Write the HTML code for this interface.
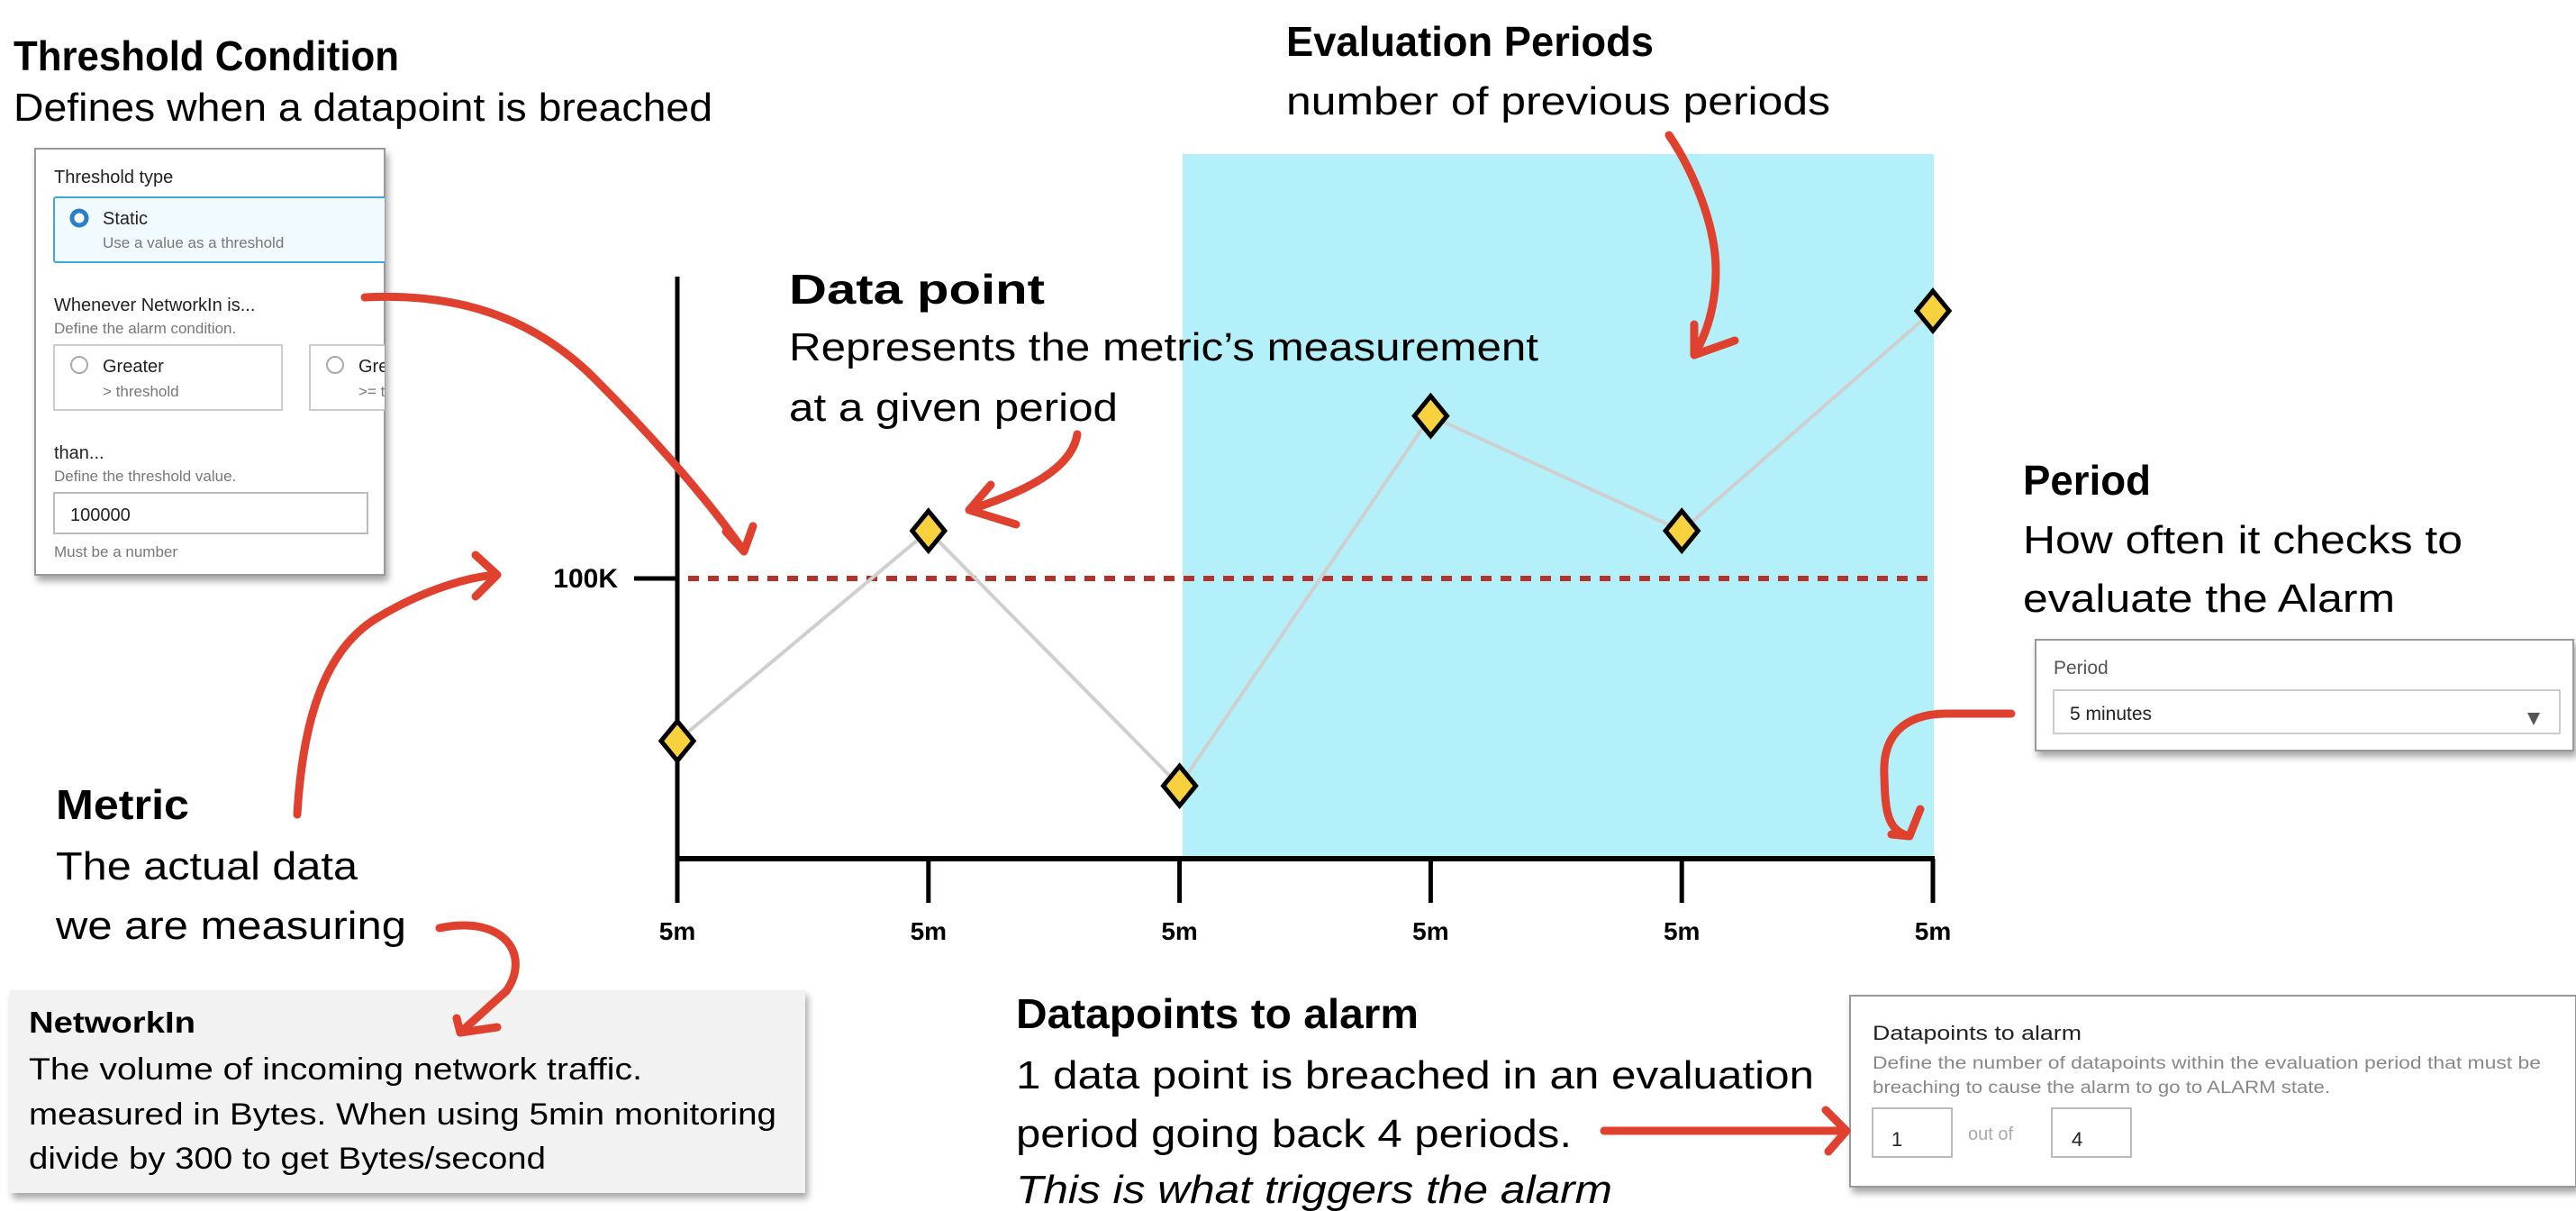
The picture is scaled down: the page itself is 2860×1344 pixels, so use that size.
<!DOCTYPE html>
<html><head><meta charset="utf-8">
<style>
html,body{margin:0;padding:0;background:#fff;}
svg{display:block;}
text{font-family:"Liberation Sans",sans-serif;}
</style></head>
<body>
<svg id="root" width="2860" height="1344" viewBox="0 0 2860 1344" xmlns="http://www.w3.org/2000/svg">
<defs>
<filter id="sh" x="-5%" y="-5%" width="115%" height="120%"><feDropShadow dx="3" dy="6" stdDeviation="4" flood-color="#000" flood-opacity="0.35"/></filter>
<clipPath id="tpclip"><rect x="39" y="160" width="388" height="480"/></clipPath>
<clipPath id="chartclip"><rect x="0" y="0" width="2172" height="1344"/></clipPath>
</defs>

<rect id="evalband" x="1313" y="171" width="834" height="782" fill="#b3f0fa"/>

<g>
<text x="15" y="78" font-size="46" font-weight="bold" textLength="428" lengthAdjust="spacingAndGlyphs">Threshold Condition</text>
<text x="15" y="134" font-size="44" textLength="776" lengthAdjust="spacingAndGlyphs">Defines when a datapoint is breached</text>
</g>

<g>
<rect x="39" y="165" width="388" height="473" fill="#fff" stroke="#999" stroke-width="2" filter="url(#sh)"/>
<g clip-path="url(#tpclip)">
<text x="60" y="203" font-size="20" fill="#222">Threshold type</text>
<rect x="60" y="219" width="380" height="72" fill="#f1fafe" stroke="#3aa8d8" stroke-width="2" rx="2"/>
<circle cx="88" cy="242" r="8" fill="#fff" stroke="#2a7fc9" stroke-width="5"/>
<text x="114" y="249" font-size="20" fill="#222">Static</text>
<text x="114" y="275" font-size="17" fill="#777">Use a value as a threshold</text>
<text x="60" y="345" font-size="20" fill="#222">Whenever NetworkIn is...</text>
<text x="60" y="370" font-size="17" fill="#777">Define the alarm condition.</text>
<rect x="60" y="383" width="253" height="72" fill="#fff" stroke="#ccc" stroke-width="2"/>
<circle cx="88" cy="405" r="9" fill="#fff" stroke="#aaa" stroke-width="2"/>
<text x="114" y="413" font-size="20" fill="#222">Greater</text>
<text x="114" y="440" font-size="17" fill="#777">&gt; threshold</text>
<rect x="344" y="383" width="253" height="72" fill="#fff" stroke="#ccc" stroke-width="2"/>
<circle cx="372" cy="405" r="9" fill="#fff" stroke="#aaa" stroke-width="2"/>
<text x="398" y="413" font-size="20" fill="#222">Greater/Equal</text>
<text x="398" y="440" font-size="17" fill="#777">&gt;= threshold</text>
<text x="60" y="509" font-size="20" fill="#222">than...</text>
<text x="60" y="534" font-size="17" fill="#777">Define the threshold value.</text>
<rect x="60" y="547" width="348" height="45" fill="#fff" stroke="#bbb" stroke-width="2"/>
<text x="78" y="578" font-size="20" fill="#222">100000</text>
<text x="60" y="618" font-size="17" fill="#777">Must be a number</text>
</g>
</g>

<g id="chart" clip-path="url(#chartclip)"></g>

<g>
<text x="876" y="337" font-size="46" font-weight="bold" textLength="284" lengthAdjust="spacingAndGlyphs">Data point</text>
<text x="876" y="400" font-size="44" textLength="832" lengthAdjust="spacingAndGlyphs">Represents the metric’s measurement</text>
<text x="876" y="467" font-size="44" textLength="365" lengthAdjust="spacingAndGlyphs">at a given period</text>
</g>

<g>
<text x="1428" y="62" font-size="46" font-weight="bold" textLength="408" lengthAdjust="spacingAndGlyphs">Evaluation Periods</text>
<text x="1428" y="127" font-size="44" textLength="604" lengthAdjust="spacingAndGlyphs">number of previous periods</text>
</g>

<g>
<text x="2246" y="549" font-size="46" font-weight="bold" textLength="142" lengthAdjust="spacingAndGlyphs">Period</text>
<text x="2246" y="614" font-size="44" textLength="488" lengthAdjust="spacingAndGlyphs">How often it checks to</text>
<text x="2246" y="679" font-size="44" textLength="413" lengthAdjust="spacingAndGlyphs">evaluate the Alarm</text>
</g>
<g>
<rect x="2260" y="710" width="597" height="123" fill="#fff" stroke="#999" stroke-width="2" filter="url(#sh)"/>
<text x="2280" y="748" font-size="21" fill="#555">Period</text>
<rect x="2280" y="766" width="562" height="48" fill="#fff" stroke="#ccc" stroke-width="2"/>
<text x="2298" y="799" font-size="21" fill="#222">5 minutes</text>
<path d="M2806,791 L2820,791 L2813,805 Z" fill="#555"/>
</g>

<g>
<text x="62" y="909" font-size="46" font-weight="bold" textLength="148" lengthAdjust="spacingAndGlyphs">Metric</text>
<text x="62" y="976" font-size="44" textLength="335" lengthAdjust="spacingAndGlyphs">The actual data</text>
<text x="62" y="1042" font-size="44" textLength="389" lengthAdjust="spacingAndGlyphs">we are measuring</text>
</g>
<g>
<rect x="11" y="1099" width="883" height="225" fill="#f2f2f2" filter="url(#sh)"/>
<text x="32" y="1146" font-size="33" font-weight="bold" textLength="185" lengthAdjust="spacingAndGlyphs">NetworkIn</text>
<text x="32" y="1198" font-size="34" textLength="681" lengthAdjust="spacingAndGlyphs">The volume of incoming network traffic.</text>
<text x="32" y="1248" font-size="34" textLength="830" lengthAdjust="spacingAndGlyphs">measured in Bytes. When using 5min monitoring</text>
<text x="32" y="1297" font-size="34" textLength="574" lengthAdjust="spacingAndGlyphs">divide by 300 to get Bytes/second</text>
</g>

<g>
<text x="1128" y="1141" font-size="46" font-weight="bold" textLength="447" lengthAdjust="spacingAndGlyphs">Datapoints to alarm</text>
<text x="1128" y="1208" font-size="44" textLength="886" lengthAdjust="spacingAndGlyphs">1 data point is breached in an evaluation</text>
<text x="1128" y="1273" font-size="44" textLength="617" lengthAdjust="spacingAndGlyphs">period going back 4 periods.</text>
<text x="1128" y="1335" font-size="44" font-style="italic" textLength="662" lengthAdjust="spacingAndGlyphs">This is what triggers the alarm</text>
</g>
<g>
<rect x="2054" y="1105" width="806" height="212" fill="#fff" stroke="#999" stroke-width="2" filter="url(#sh)"/>
<text x="2079" y="1154" font-size="22" fill="#222" textLength="232" lengthAdjust="spacingAndGlyphs">Datapoints to alarm</text>
<text x="2079" y="1186" font-size="19" fill="#888" textLength="742" lengthAdjust="spacingAndGlyphs">Define the number of datapoints within the evaluation period that must be</text>
<text x="2079" y="1213" font-size="19" fill="#888" textLength="508" lengthAdjust="spacingAndGlyphs">breaching to cause the alarm to go to ALARM state.</text>
<rect x="2079" y="1230" width="88" height="54" fill="#fff" stroke="#bbb" stroke-width="2"/>
<text x="2100" y="1272" font-size="22" fill="#222">1</text>
<text x="2185" y="1265" font-size="20" fill="#aaa">out of</text>
<rect x="2278" y="1230" width="88" height="54" fill="#fff" stroke="#bbb" stroke-width="2"/>
<text x="2300" y="1272" font-size="22" fill="#222">4</text>
</g>

<g fill="none" stroke="#e0412e" stroke-width="9" stroke-linecap="round" stroke-linejoin="round">
<path d="M405,330 C520,324 600,360 660,420 C730,490 790,560 826,612 M826,612 L806,590 M826,612 L836,584"/>
<path d="M1196,482 C1190,520 1140,545 1076,566 M1076,566 L1100,538 M1076,566 L1128,582"/>
<path d="M1853,150 C1880,190 1905,250 1905,300 C1905,340 1895,370 1881,394 M1881,394 L1881,360 M1881,394 L1926,378"/>
<path d="M330,904 C336,800 360,720 420,685 C470,655 520,640 552,638 M552,638 L528,616 M552,638 L528,662"/>
<path d="M488,1030 C560,1015 590,1060 562,1100 L511,1146 M511,1146 L507,1130 M511,1146 L552,1140"/>
<path d="M2233,792 L2162,792 C2110,792 2090,820 2092,860 C2093,900 2095,922 2120,928 M2120,928 L2132,898 M2120,928 L2100,926"/>
<path d="M1781,1255 L2050,1255 M2050,1255 L2027,1232 M2050,1255 L2030,1278"/>
</g>

<script>
const categories = ["5m","5m","5m","5m","5m","5m"];
const values = [42, 117, 26, 158, 117, 195.5];
const thresholdValue = 100;
const thresholdLabel = "100K";

const NS = "http://www.w3.org/2000/svg";
const chart = document.getElementById("chart");
const X0 = 752, X1 = 2146, Y0 = 953, Ytop = 307;
function xScale(i){ return X0 + (X1 - X0) * i / (categories.length - 1); }
function yScale(v){ return Y0 - v * 3.11; }
function mk(tag, attrs){ const e = document.createElementNS(NS, tag); for (const k in attrs) e.setAttribute(k, attrs[k]); chart.appendChild(e); return e; }

const tl = mk("line", {x1: X0 + 12, x2: X1, y1: yScale(thresholdValue), y2: yScale(thresholdValue), stroke: "#b3322a", "stroke-width": 6, "stroke-dasharray": "12 10"});


const ya = mk("line", {x1: X0, x2: X0, y1: Ytop, y2: Y0 + 2, stroke: "#000", "stroke-width": 5});


const yt = mk("line", {x1: 704, x2: X0, y1: yScale(thresholdValue), y2: yScale(thresholdValue), stroke: "#000", "stroke-width": 5});


const ylab = mk("text", {x: 686, y: yScale(thresholdValue) + 10, "font-size": 30, "font-weight": "bold", "text-anchor": "end"});
ylab.textContent = thresholdLabel;


const xa = mk("line", {x1: X0 - 2, x2: X1 + 2, y1: Y0, y2: Y0, stroke: "#000", "stroke-width": 6});


categories.forEach((c, i) => {
  const t = mk("line", {x1: xScale(i), x2: xScale(i), y1: Y0, y2: 1002, stroke: "#000", "stroke-width": 5});
  
  
  const l = mk("text", {x: xScale(i), y: 1043, "font-size": 28, "font-weight": "bold", "text-anchor": "middle"});
  l.textContent = c;
  
  
});
const pts = values.map((v, i) => xScale(i) + "," + yScale(v)).join(" ");
const pl = mk("polyline", {points: pts, fill: "none", stroke: "#cfcfcf", "stroke-width": 4});


values.forEach((v, i) => {
  const cx = xScale(i), cy = yScale(v), h = 22;
  const d = mk("path", {d: `M${cx},${cy - h} L${cx + h * 0.82},${cy} L${cx},${cy + h} L${cx - h * 0.82},${cy} Z`, fill: "#f7d13e", stroke: "#000", "stroke-width": 5, "stroke-linejoin": "miter"});
  
  
});
</script>
</svg>
</body></html>
